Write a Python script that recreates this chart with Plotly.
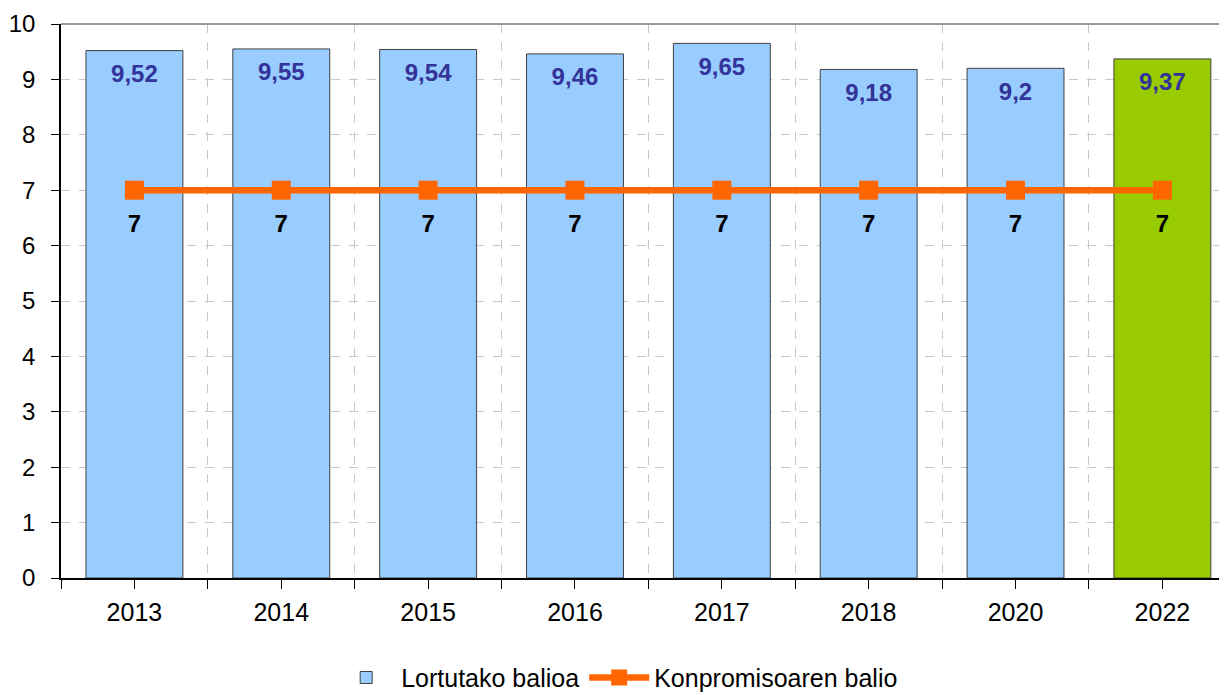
import plotly.graph_objects as go

years = ["2013", "2014", "2015", "2016", "2017", "2018", "2020", "2022"]
obtained = [9.52, 9.55, 9.54, 9.46, 9.65, 9.18, 9.20, 9.37]
commitment = [7, 7, 7, 7, 7, 7, 7, 7]
bar_colors = ["#99CCFF"] * 7 + ["#99CC00"]

xs = list(range(len(years)))

def fmt(v):
    s = ("%.2f" % v).rstrip("0").rstrip(".")
    return s.replace(".", ",")

FONT = "Liberation Sans, Arial, sans-serif"

fig = go.Figure()
fig.add_trace(go.Bar(
    x=xs, y=obtained, name="Lortutako balioa", width=0.66,
    marker=dict(color=bar_colors, line=dict(color="#404040", width=1)),
    hoverinfo="skip",
))
fig.add_trace(go.Scatter(
    x=xs, y=commitment, name="Konpromisoaren balio", mode="lines+markers",
    line=dict(color="#FF6600", width=6.5),
    marker=dict(symbol="square", size=19, color="#FF6600"),
))
fig.add_trace(go.Scatter(
    x=xs, y=[v - 0.46 for v in obtained], mode="text",
    text=[fmt(v) for v in obtained], showlegend=False,
    textfont=dict(family=FONT, size=24, color="#333399", weight="bold"),
    hoverinfo="skip",
))
fig.add_trace(go.Scatter(
    x=xs, y=[v - 0.65 for v in commitment], mode="text",
    text=[fmt(v) for v in commitment], showlegend=False,
    textfont=dict(family=FONT, size=24, color="#000000", weight="bold"),
    hoverinfo="skip",
))

fig.update_layout(
    width=1219, height=705,
    margin=dict(l=53, r=0, t=16, b=135),
    paper_bgcolor="white", plot_bgcolor="white",
    font=dict(family=FONT, size=24, color="#000000"),
    showlegend=True,
    legend=dict(orientation="h", x=0.477, xanchor="center", y=-0.18, yanchor="middle",
                font=dict(size=25), itemwidth=60, tracegroupgap=0),
    xaxis=dict(
        range=[-0.5, 7.44], tickmode="array", tickvals=xs, ticktext=years,
        tickfont=dict(size=25),
        showgrid=False, showline=True, linecolor="#000000", linewidth=1.5,
        ticks="outside", ticklen=9, tickcolor="#000000", ticklabelstandoff=2,
        zeroline=False,
        minor=dict(tickmode="array", tickvals=[i - 0.5 for i in xs] + [7.5],
                   ticks="outside", ticklen=9, tickcolor="#000000",
                   showgrid=True, gridcolor="#C8C8C8", griddash="dash", gridwidth=1),
    ),
    yaxis=dict(
        range=[0, 10], tickmode="linear", tick0=0, dtick=1,
        showgrid=True, gridcolor="#C8C8C8", griddash="dash", gridwidth=1,
        showline=True, linecolor="#000000", linewidth=1.5,
        ticks="outside", ticklen=8, tickcolor="#000000", ticklabelstandoff=11,
        zeroline=False,
    ),
    shapes=[dict(type="line", xref="paper", yref="paper", x0=0, x1=1, y0=1, y1=1,
                 line=dict(color="#999999", width=2))],
)

fig.write_html("out.html")
